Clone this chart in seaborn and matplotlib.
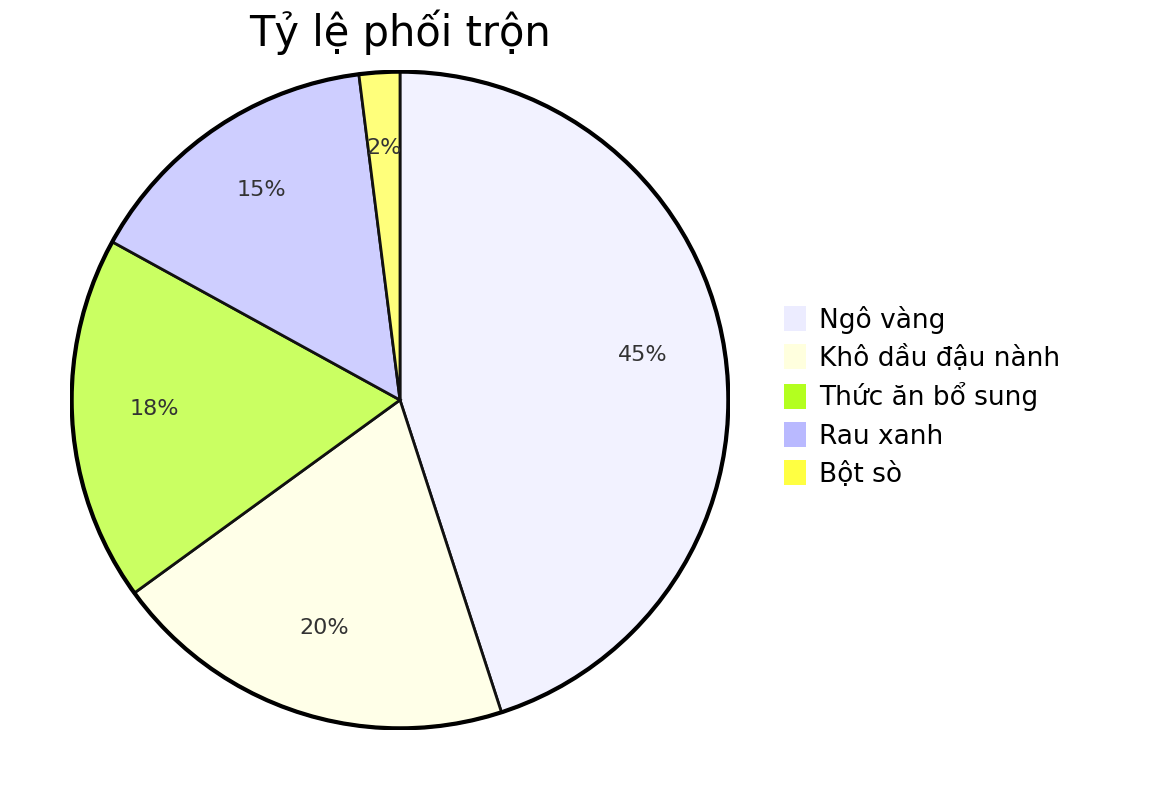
import matplotlib
matplotlib.use("Agg")
import matplotlib.pyplot as plt
import seaborn as sns
from matplotlib.patches import Patch, Circle

# data
labels = ["Ngô vàng", "Khô dầu đậu nành", "Thức ăn bổ sung", "Rau xanh", "Bột sò"]
values = [45, 20, 18, 15, 2]
legend_colors = ["#ECECFF", "#FFFFDE", "#B3FF1F", "#B9B9FF", "#FFFF42"]
slice_colors = ["#F2F2FF", "#FFFFE8", "#CAFF62", "#CECEFF", "#FFFF7B"]

sns.set_theme(style="white")
plt.rcParams["font.family"] = ["DejaVu Sans"]

fig = plt.figure(figsize=(11.56, 8), dpi=100)
W, H = 1156, 800
cx, cy, r = 400, 400, 330
ax = fig.add_axes([(cx - r) / W, (H - cy - r) / H, 2 * r / W, 2 * r / H])

pal = sns.color_palette(slice_colors)
wedges, texts, autotexts = ax.pie(
    values, colors=pal, startangle=90, counterclock=False, radius=1,
    autopct=lambda p: f"{p:.0f}%", pctdistance=0.75,
    wedgeprops=dict(edgecolor="#111111", linewidth=2),
    textprops=dict(fontsize=16, color="#333333"))
for t in autotexts:
    t.set_va("baseline")
ax.add_patch(Circle((0, 0), 1.0, fill=False, edgecolor="black", linewidth=3))
# pie resets the limits, so fix them afterwards
ax.set_xlim(-1.005, 1.005)
ax.set_ylim(-1.005, 1.005)
ax.axis("off")

fig.text(cx / W, 1 - 32 / H, "Tỷ lệ phối trộn", ha="center", va="center",
         fontsize=30, color="black")

handles = [Patch(facecolor=c, edgecolor="none") for c in legend_colors]
leg = fig.legend(handles, labels, loc="upper left", bbox_to_anchor=(773 / W, 1 - 295 / H),
                 frameon=False, fontsize=19, handlelength=0.85, handleheight=1.1,
                 handletextpad=0.5, labelspacing=0.4, borderaxespad=0)
for t in leg.get_texts():
    t.set_color("black")

fig.savefig("out.png", dpi=100, facecolor="white")
